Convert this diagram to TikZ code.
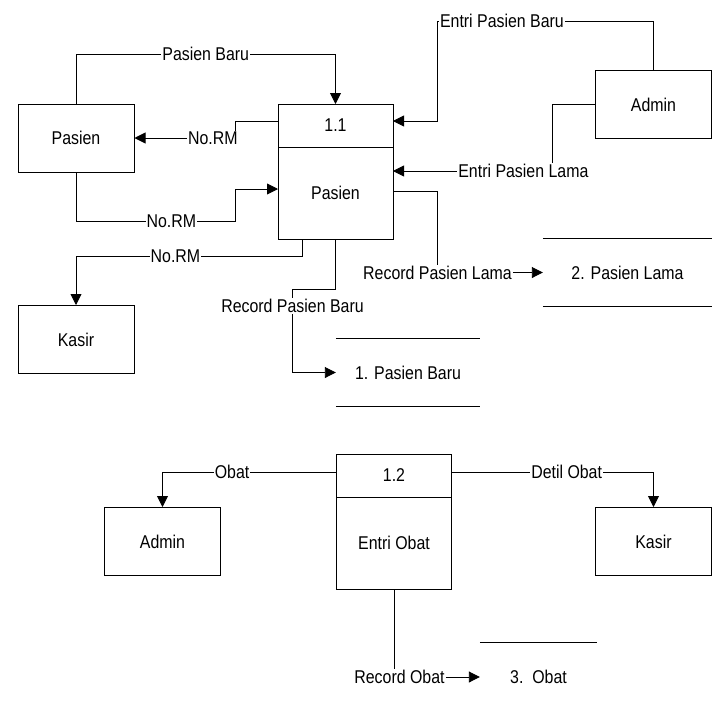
\documentclass[tikz,border=0pt]{standalone}
\usepackage{fontspec}
\setmainfont{Liberation Sans}[FakeStretch=0.86]
\usetikzlibrary{
  arrows.meta, % for the Triangle arrow tip
  positioning, % to stack the body of a process under its number
}
\tikzset{
  entity/.style={ % style for the external entities
    rectangle,draw,line width=1pt, % drawn as a plain rectangle
    minimum width=116pt, minimum height=68pt, % all entities the same size
    inner sep=0pt,
  },
  procid/.style={ % style for the number part of a process
    rectangle,draw,line width=1pt,
    minimum width=115pt, minimum height=43pt,
    inner sep=0pt, outer sep=0pt, % so the two parts share one edge
  },
  procbody/.style={ % style for the name part of a process
    procid, % inherit the number part
    minimum height=92pt,
  },
  store/.style={ % style for the data stores (lines drawn later)
    rectangle, inner sep=0pt, minimum height=68pt,
  },
  lbl/.style={ % style for the flow labels
    fill=white, inner sep=1pt, % hides the line behind the text
  },
  conn/.style={ % style for the data flows
    -{Triangle[length=11pt,width=11pt]}, % filled arrow tip
    line width=0.9pt,
  },
  flow/.style={ % flow piece with no tip
    line width=0.9pt,
  },
}
\begin{document}
\begin{tikzpicture}[x=1pt, y=-1pt, font=\fontsize{18.5}{22}\selectfont]
  \useasboundingbox (0,0) rectangle (718,702);
  % entities
  \node[entity] (pasien) at (76,138) {Pasien};
  \node[entity] (kasir1) at (76,339.5) {Kasir};
  \node[entity] (admin1) at (653.5,104.5) {Admin};
  \node[entity] (admin2) at (162.5,541.5) {Admin};
  \node[entity] (kasir2) at (653.5,541.5) {Kasir};
  % processes
  \node[procid] (p11id) at (335.5,125.5) {1.1};
  \node[procbody, below=0pt of p11id] (p11) {Pasien};
  \node[procid] (p12id) at (394,475.5) {1.2};
  \node[procbody, below=0pt of p12id] (p12) {Entri Obat};
  % data stores
  \node[store, minimum width=144pt] (store1) at (408,372.5) {1. Pasien Baru};
  \node[store, minimum width=169pt] (store2) at (627.5,272.5) {2. Pasien Lama};
  \node[store, minimum width=117pt] (store3) at (538.5,677) {3.\ \ Obat};
  \foreach \s in {store1,store2}
    \draw[line width=1pt] (\s.north west) -- (\s.north east) (\s.south west) -- (\s.south east);
  \draw[line width=1pt] (store3.north west) -- (store3.north east);
  % flows of 1.1
  \draw[conn] (pasien.north) |- node[lbl, pos=0.75] {Pasien Baru} (p11id.north |- 0,54) -- (p11id.north);
  \draw[conn] ([yshift=4.5pt]p11id.west) -| (235,138) -- node[lbl, pos=0.22] {No.RM} (pasien.east);
  \draw[conn] (pasien.south) |- node[lbl, pos=0.8] {No.RM} (235,221) |- ([yshift=4pt]p11.west);
  \draw[conn] (admin1.north) |- node[lbl, pos=0.85] {Entri Pasien Baru} (437,21) |- ([yshift=4.5pt]p11id.east);
  \draw[conn] (admin1.west) -| (552,171) -- node[lbl, pos=0.18] {Entri Pasien Lama} ([yshift=22pt]p11.east);
  \node[lbl] (rpl) at (437.5,272.5) {Record Pasien Lama};
  \draw[flow] ([yshift=2pt]p11.east) -| (rpl);
  \draw[conn] (rpl.east) -- (rpl.east -| store2.west);
  \draw[conn] ([xshift=-33.5pt]p11.south) |- node[lbl, pos=0.78] {No.RM} (kasir1.north |- 0,256) -- (kasir1.north);
  \node[lbl] (rpb) at (292.5,306) {Record Pasien Baru};
  \draw[flow] (p11.south) |- (rpb.north |- 0,289) -- (rpb.north);
  \draw[conn] (rpb.south) |- (store1.west);
  % flows of 1.2
  \draw[conn] ([yshift=3.5pt]p12id.west) -| node[lbl, pos=0.3] {Obat} (admin2.north);
  \draw[conn] ([yshift=3.5pt]p12id.east) -| node[lbl, pos=0.285] {Detil Obat} (kasir2.north);
  \node[lbl] (ro) at (399.5,677) {Record Obat};
  \draw[flow] (p12.south) -- (p12.south |- ro.north);
  \draw[conn] (ro.east) -- (ro.east -| store3.west);
\end{tikzpicture}
\end{document}
